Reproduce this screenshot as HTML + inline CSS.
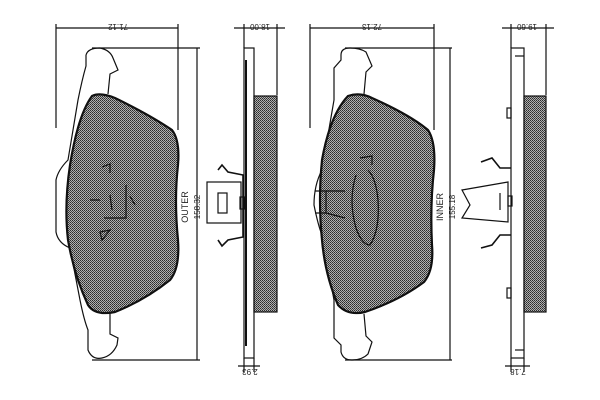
<!DOCTYPE html>
<html><head><style>
html,body{margin:0;padding:0;background:#fff;width:600px;height:400px;overflow:hidden}
text{font-family:"Liberation Sans",sans-serif;fill:#222}
</style></head><body>
<svg width="600" height="400" viewBox="0 0 600 400" xmlns="http://www.w3.org/2000/svg">
<defs>
<pattern id="h" width="2" height="2" patternUnits="userSpaceOnUse">
<rect width="2" height="2" fill="#b0b0b0"/><rect width="1" height="1" fill="#2a2a2a"/><rect x="1" y="1" width="1" height="1" fill="#444"/>
</pattern>
</defs>
<g fill="none" stroke="#111" stroke-width="1.2">
<!-- LEFT PAD dims -->
<line x1="56" y1="28" x2="178" y2="28"/>
<line x1="56" y1="24" x2="56" y2="128"/>
<line x1="178" y1="24" x2="178" y2="130"/>
<line x1="92" y1="48" x2="200" y2="48"/>
<line x1="92" y1="360" x2="200" y2="360"/>
<line x1="197" y1="48" x2="197" y2="360"/>
<!-- left backplate -->
<path d="M86 55 Q88 48 100 48 Q110 50 113 58 L118 70 L110 74 L108 94 M86 55 L86 66 Q82 80 78 100 L68 160 Q58 170 56 180 L56 232 Q58 243 70 248 L80 300 Q84 320 88 330 L88 350 Q92 360 102 358 Q112 356 117 345 L118 338 L110 334 L110 314"/>
<!-- left friction -->
<path d="M92 96 Q100 92 115 98 Q150 115 172 130 Q180 140 178 165 Q174 200 178 240 Q180 268 170 280 Q145 300 115 312 Q95 316 88 305 Q74 275 68 240 Q64 205 70 165 Q78 115 92 96Z" fill="url(#h)" stroke-width="2.2"/>
<path d="M102 167 L110 164 L110 173 M126 185 L126 218 L104 218 M130 196 L135 205 M100 232 L110 230 L102 240 Z M90 200 L100 200 M110 195 L112 210"/>
<!-- left side view -->
<line x1="234" y1="28" x2="285" y2="28"/>
<line x1="244" y1="24" x2="244" y2="48"/><line x1="277" y1="24" x2="277" y2="95"/>
<rect x="244" y="48" width="10" height="310"/>
<line x1="246" y1="60" x2="246" y2="346" stroke-width="2"/>
<rect x="254" y="96" width="23" height="216" fill="url(#h)"/>
<line x1="244" y1="358" x2="244" y2="372"/><line x1="254" y1="358" x2="254" y2="372"/>
<line x1="238" y1="366" x2="260" y2="366"/>
<!-- left clip -->
<path d="M218 170 L222 165 L228 172 L243 175 L243 237 L228 240 L222 246 L218 240" stroke-width="1.6"/>
<rect x="207" y="182" width="34" height="41"/>
<rect x="218" y="193" width="9" height="20"/>
<rect x="240" y="197" width="5" height="12"/>
<!-- RIGHT PAD dims -->
<line x1="310" y1="28" x2="434" y2="28"/>
<line x1="310" y1="24" x2="310" y2="128"/>
<line x1="434" y1="24" x2="434" y2="130"/>
<line x1="345" y1="48" x2="452" y2="48"/>
<line x1="345" y1="360" x2="452" y2="360"/>
<line x1="450" y1="48" x2="450" y2="360"/>
<path d="M341 55 Q341 48 350 48 Q360 48 366 52 L372 66 L366 72 L364 94 M341 55 L341 60 L334 68 L334 100 L322 170 Q314 185 314 205 Q318 225 322 235 L334 300 L334 338 L341 345 L341 352 Q343 360 352 360 Q362 360 368 354 L372 342 L366 336 L364 314"/>
<path d="M348 96 Q360 92 372 98 Q410 115 428 130 Q436 142 434 170 Q430 205 432 245 Q434 270 424 282 Q400 300 365 312 Q348 316 338 305 Q325 275 322 240 Q318 200 322 160 Q330 115 348 96Z" fill="url(#h)" stroke-width="2.2"/>
<path d="M360 158 L372 156 L372 165 M356 175 Q348 200 356 228 Q362 245 370 245 Q380 230 378 200 Q376 178 368 170 M315 191 L326 191 L326 213 L315 213 M326 191 L345 191 M326 213 L345 218"/>
<!-- right side view -->
<line x1="502" y1="28" x2="554" y2="28"/>
<line x1="511" y1="24" x2="511" y2="48"/><line x1="546" y1="24" x2="546" y2="95"/>
<rect x="511" y="48" width="13" height="310"/>
<line x1="515" y1="56" x2="524" y2="56"/><line x1="515" y1="350" x2="524" y2="350"/>
<rect x="524" y="96" width="22" height="216" fill="url(#h)"/>
<rect x="507" y="108" width="4" height="10"/><rect x="507" y="288" width="4" height="10"/>
<line x1="511" y1="358" x2="511" y2="372"/><line x1="524" y1="358" x2="524" y2="372"/>
<line x1="505" y1="366" x2="530" y2="366"/>
<!-- right clip -->
<path d="M481 162 L492 158 L500 168 L511 168 M481 248 L492 245 L500 235 L511 235" stroke-width="1.6"/>
<path d="M462 190 L508 182 L508 222 L462 218 L470 205 Z"/>
<path d="M500 193 L500 210"/>
<rect x="508" y="196" width="4" height="10"/>
</g>
<g font-size="8">
<text transform="translate(118,24) rotate(180)" text-anchor="middle">71.12</text>
<text transform="translate(260,24) rotate(180)" text-anchor="middle">18.00</text>
<text transform="translate(372,24) rotate(180)" text-anchor="middle">72.13</text>
<text transform="translate(527,24) rotate(180)" text-anchor="middle">19.60</text>
<text transform="translate(250,369) rotate(180)" text-anchor="middle">2.93</text>
<text transform="translate(518,369) rotate(180)" text-anchor="middle">7.18</text>
<text transform="translate(188,207) rotate(-90)" text-anchor="middle" font-size="9">OUTER</text>
<text transform="translate(200,207) rotate(-90)" text-anchor="middle">158.32</text>
<text transform="translate(443,207) rotate(-90)" text-anchor="middle" font-size="9">INNER</text>
<text transform="translate(455,207) rotate(-90)" text-anchor="middle">155.18</text>
</g>
</svg>
</body></html>
